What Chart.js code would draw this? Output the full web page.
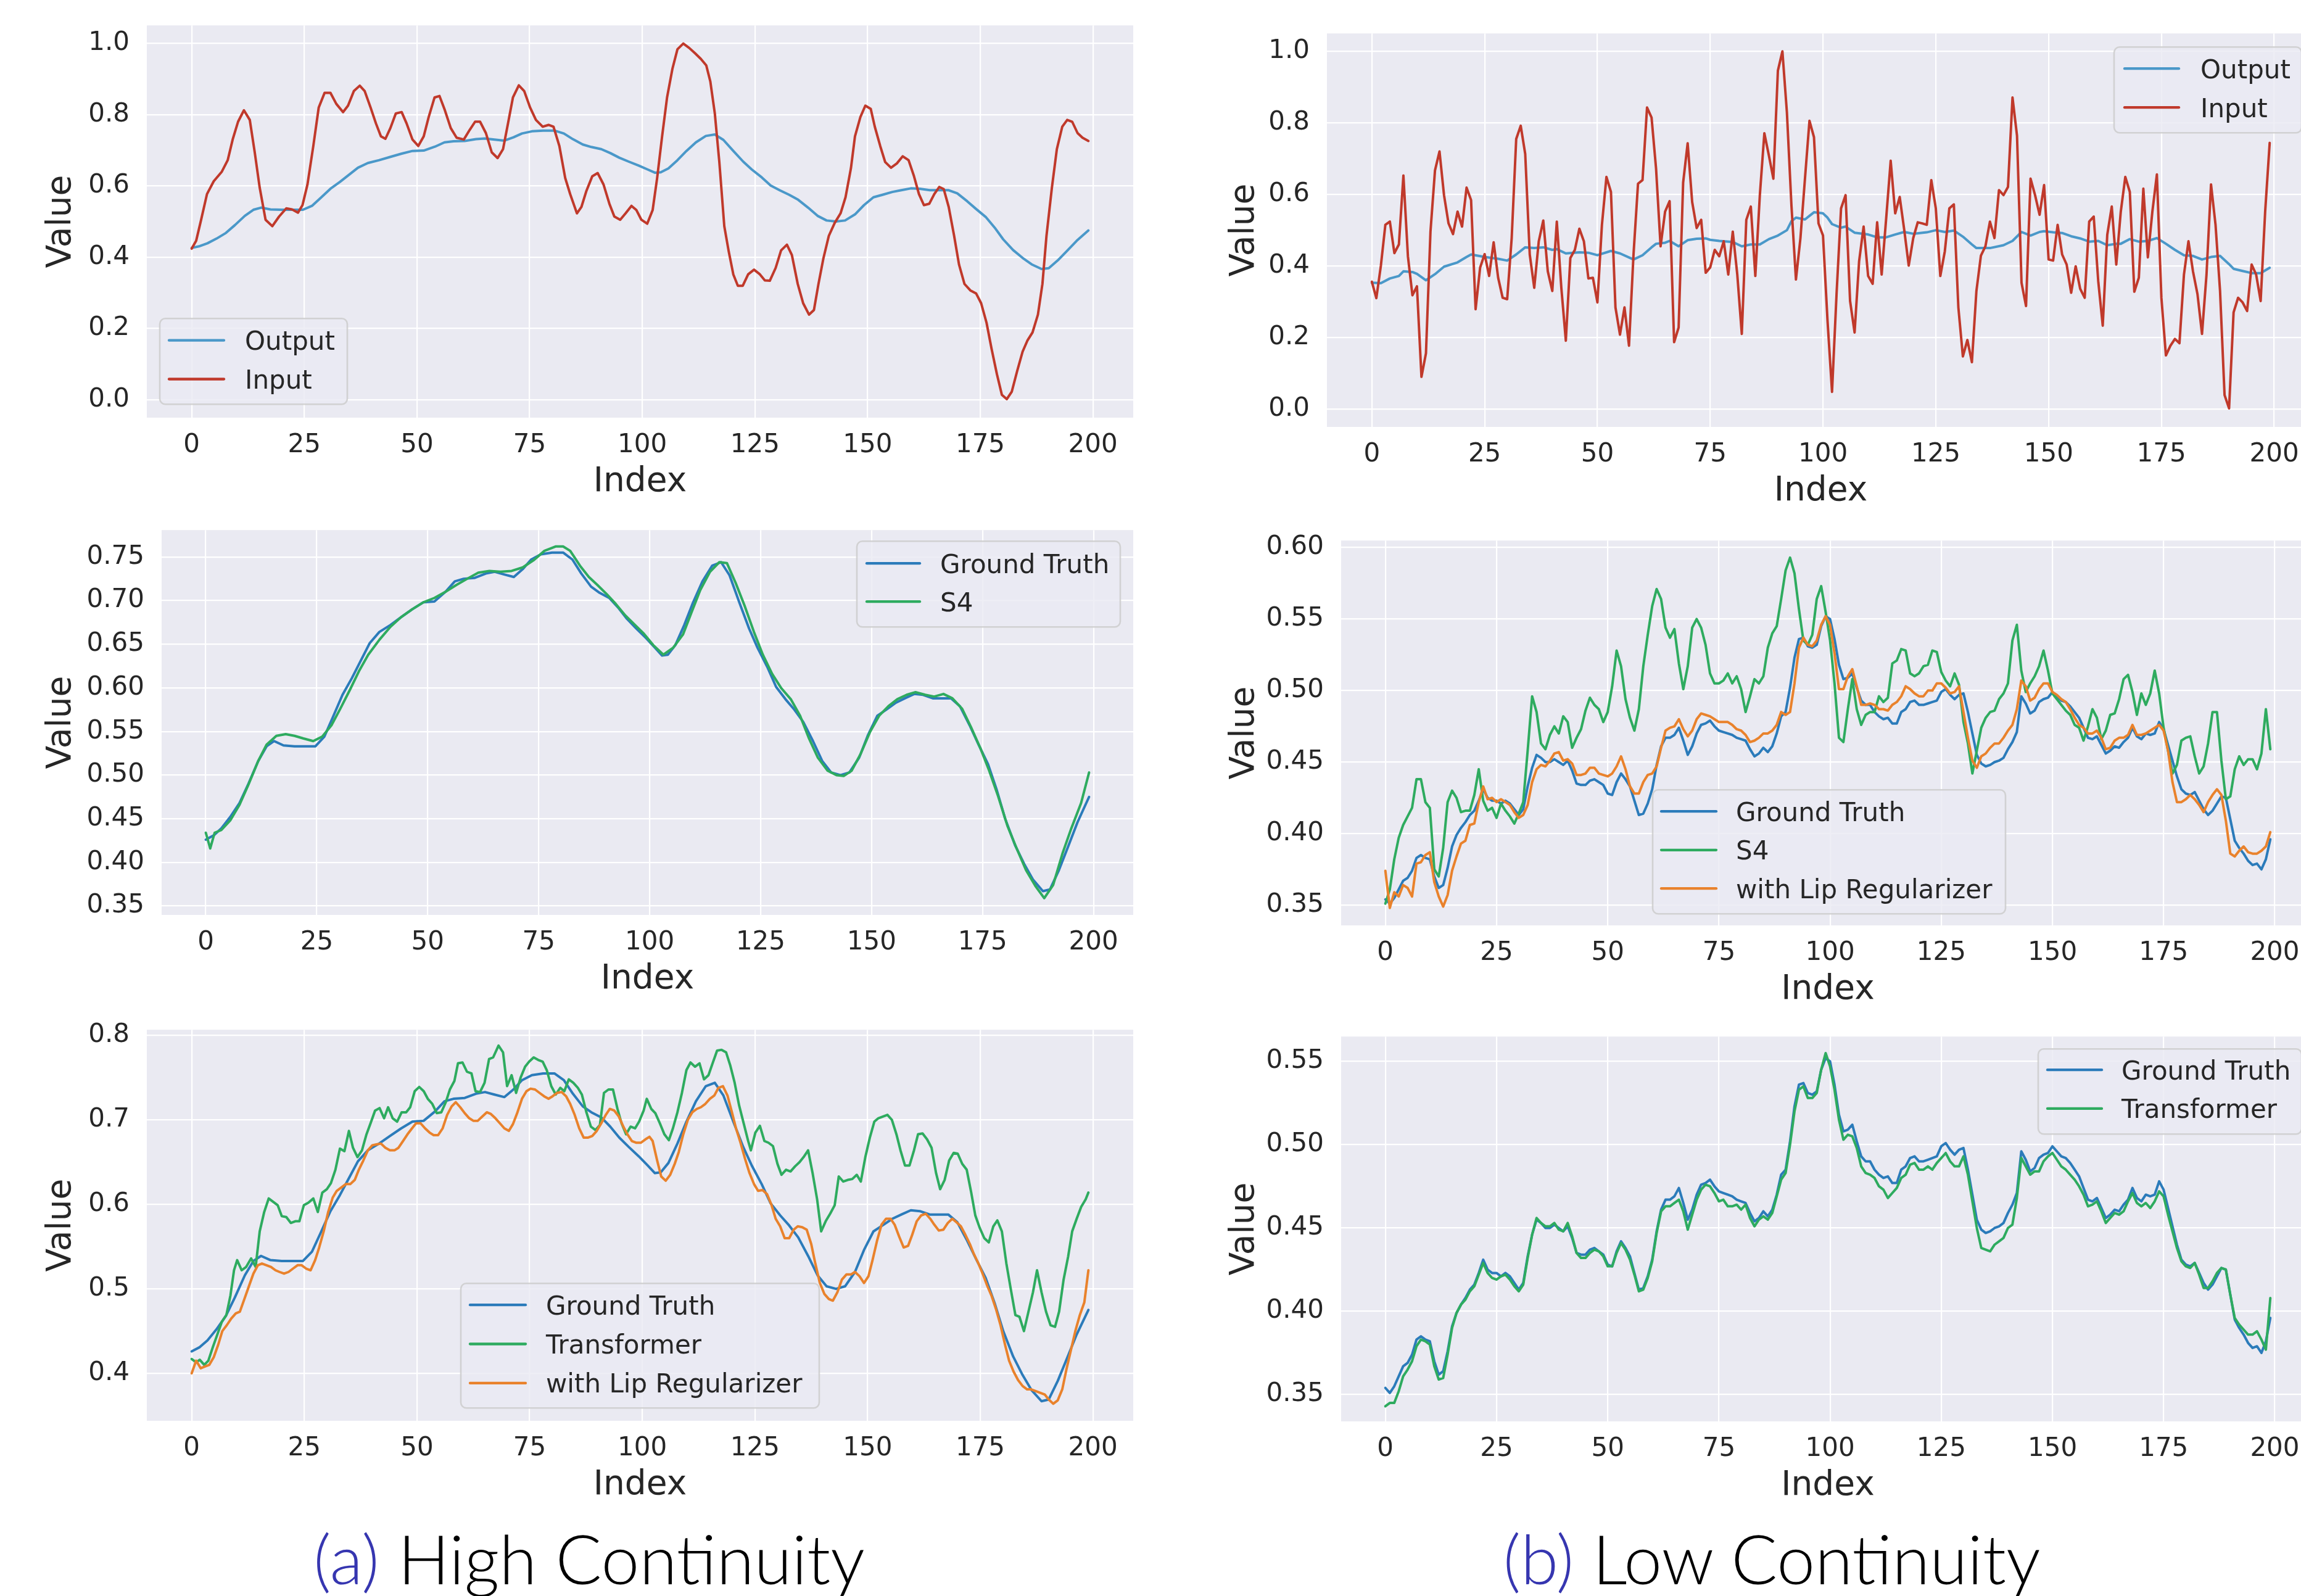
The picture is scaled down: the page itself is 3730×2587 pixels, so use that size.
<!DOCTYPE html>
<html>
<head>
<meta charset="utf-8">
<script src="https://cdn.jsdelivr.net/npm/chart.js@4.4.1/dist/chart.umd.min.js"></script>
<style>
  html, body { margin: 0; padding: 0; background: #ffffff; }
  body { width: 3730px; height: 2587px; overflow: hidden; position: relative; }
  canvas { position: absolute; }
  .cap { position: absolute; top: 2470px; width: 1200px; text-align: center; font-family: Lato, "Open Sans", sans-serif;
         font-weight: 300; font-size: 111px; line-height: 1; color: #000; white-space: nowrap; }
  .cap span { color: #3636b0; }
</style>
</head>
<body>
<canvas id="a1"></canvas>
<canvas id="a2"></canvas>
<canvas id="a3"></canvas>
<canvas id="b1"></canvas>
<canvas id="b2"></canvas>
<canvas id="b3"></canvas>
<div class="cap" style="left:355px"><span>(a)</span> High Continuity</div>
<div class="cap" style="left:2272px"><span>(b)</span> Low Continuity</div>
<script>
// ---------- shared axis ticks ----------
const xTicks = [0, 25, 50, 75, 100, 125, 150, 175, 200];
const yTicksUnit = [0, 0.2, 0.4, 0.6, 0.8, 1.0];
const yTicksHighGT = [0.35, 0.40, 0.45, 0.50, 0.55, 0.60, 0.65, 0.70, 0.75];
const yTicksHighTr = [0.4, 0.5, 0.6, 0.7, 0.8];
const yTicksLowS4 = [0.35, 0.40, 0.45, 0.50, 0.55, 0.60];
const yTicksLowTr = [0.35, 0.40, 0.45, 0.50, 0.55];

// ---------- (a) high continuity: [index, value] ----------
const highGroundTruth = [[0,0.426],[1.8,0.431],[3.5,0.439],[5.5,0.452],[7.6,0.468],[9.6,0.49],[11.8,0.516],[13.7,0.533],[15.4,0.539],[17.5,0.534],[20,0.533],[22.5,0.533],[24.7,0.533],[26.7,0.544],[28.6,0.566],[30.8,0.592],[32.9,0.611],[34.9,0.631],[36.9,0.651],[39.1,0.664],[41.6,0.672],[44,0.681],[46.5,0.69],[49,0.698],[51.5,0.699],[54,0.71],[56.1,0.722],[58.1,0.725],[60.6,0.726],[63.1,0.731],[65.1,0.733],[67.2,0.73],[69.4,0.727],[71.4,0.736],[73.3,0.747],[75.5,0.753],[78,0.755],[80.5,0.755],[82.6,0.747],[84.6,0.731],[86.8,0.716],[88.7,0.709],[90.9,0.703],[92.9,0.692],[94.9,0.679],[97,0.668],[99.2,0.657],[101.2,0.646],[102.8,0.637],[104.1,0.638],[105.8,0.649],[107.8,0.672],[109.8,0.698],[111.9,0.722],[114.1,0.74],[116.1,0.744],[118,0.729],[120.2,0.698],[122.4,0.668],[124.3,0.646],[126.5,0.624],[128.5,0.601],[130.6,0.587],[132.6,0.575],[134.6,0.561],[136.8,0.539],[138.9,0.516],[140.9,0.503],[143,0.5],[145,0.503],[147.2,0.52],[149.2,0.546],[151.3,0.568],[153.3,0.575],[155.5,0.583],[157.5,0.588],[159.6,0.593],[161.6,0.592],[163.8,0.588],[165.7,0.588],[167.9,0.588],[169.9,0.579],[172.1,0.557],[174.1,0.535],[176.2,0.513],[178.2,0.483],[180.1,0.45],[182.3,0.42],[184.4,0.398],[186.4,0.38],[188.6,0.367],[190.2,0.369],[192.2,0.391],[194.2,0.417],[196.4,0.446],[199,0.475]];

const highInput = [[0,0.424],[1,0.446],[2.1,0.505],[3.4,0.577],[4.9,0.613],[6.7,0.64],[8,0.672],[9.1,0.73],[10.3,0.78],[11.6,0.812],[12.9,0.785],[14,0.694],[15.1,0.595],[16.4,0.505],[17.9,0.487],[19.4,0.514],[21,0.537],[22.3,0.534],[23.6,0.525],[24.6,0.546],[25.7,0.604],[27,0.712],[28.2,0.82],[29.5,0.861],[30.8,0.861],[32.1,0.83],[33.6,0.807],[34.7,0.825],[36,0.866],[37.3,0.881],[38.4,0.866],[39.7,0.82],[40.9,0.775],[42,0.739],[43,0.732],[44.1,0.762],[45.3,0.803],[46.6,0.807],[47.7,0.775],[49,0.73],[50.3,0.712],[51.5,0.739],[52.6,0.793],[53.9,0.848],[55,0.852],[56.2,0.812],[57.5,0.762],[58.8,0.735],[60.4,0.73],[61.7,0.757],[62.9,0.78],[64,0.78],[65.3,0.748],[66.6,0.694],[67.9,0.678],[69.1,0.703],[70.2,0.775],[71.3,0.848],[72.6,0.882],[73.8,0.866],[75.1,0.82],[76.4,0.785],[77.9,0.766],[79.2,0.771],[80.3,0.766],[81.6,0.712],[82.9,0.622],[84,0.577],[85.5,0.523],[86.5,0.541],[87.6,0.586],[88.9,0.627],[90.1,0.636],[91.4,0.604],[92.7,0.55],[93.8,0.514],[95.1,0.505],[96.3,0.523],[97.6,0.544],[98.7,0.532],[99.8,0.505],[101.1,0.494],[102.3,0.532],[103.3,0.622],[104.4,0.739],[105.5,0.848],[106.7,0.929],[107.8,0.983],[109.1,0.999],[110.4,0.987],[111.7,0.972],[113,0.956],[114.2,0.938],[115.1,0.893],[116.1,0.803],[117.1,0.667],[118.2,0.487],[119.2,0.415],[120.2,0.352],[121.2,0.32],[122.3,0.32],[123.5,0.352],[124.8,0.365],[126.1,0.352],[127.2,0.335],[128.3,0.334],[129.6,0.37],[130.8,0.419],[132.1,0.435],[133.2,0.406],[134.5,0.325],[135.7,0.271],[137,0.239],[138.1,0.252],[139.1,0.325],[140.2,0.397],[141.4,0.46],[142.7,0.496],[144,0.523],[145.1,0.568],[146.3,0.649],[147.2,0.739],[148.4,0.793],[149.5,0.825],[150.7,0.816],[151.6,0.766],[152.8,0.712],[153.9,0.667],[155.2,0.651],[156.5,0.663],[157.8,0.683],[159.1,0.672],[160.3,0.627],[161.4,0.577],[162.5,0.546],[163.7,0.55],[164.8,0.577],[165.9,0.597],[166.9,0.591],[168,0.541],[169.2,0.46],[170.3,0.379],[171.5,0.325],[172.8,0.307],[174.1,0.298],[175.2,0.271],[176.4,0.216],[177.5,0.144],[178.7,0.072],[179.8,0.014],[180.9,0.002],[182,0.023],[183.2,0.081],[184.4,0.135],[185.5,0.167],[186.6,0.189],[187.8,0.239],[188.8,0.325],[189.7,0.46],[190.9,0.595],[192,0.703],[193.2,0.766],[194.3,0.785],[195.4,0.78],[196.6,0.748],[197.7,0.735],[199,0.726]];

const highS4 = [[0,0.434],[1,0.416],[2,0.434],[3.5,0.437],[5.5,0.448],[7.6,0.466],[9.6,0.489],[11.8,0.516],[13.7,0.535],[15.9,0.545],[18,0.547],[20,0.545],[22,0.542],[24.2,0.539],[26.2,0.544],[28.3,0.557],[30.3,0.576],[32.5,0.598],[34.6,0.62],[36.6,0.638],[39.1,0.655],[41.6,0.67],[44,0.681],[46.5,0.69],[49,0.698],[51.5,0.703],[54,0.71],[56.5,0.718],[58.9,0.725],[61.4,0.732],[63.9,0.734],[66.4,0.733],[68.9,0.734],[71.4,0.738],[73.8,0.746],[76.3,0.757],[78.8,0.762],[80.5,0.762],[82.1,0.757],[84.3,0.74],[86.3,0.727],[88.2,0.718],[90.4,0.707],[92.4,0.696],[94.5,0.683],[96.5,0.673],[98.7,0.662],[100.8,0.649],[103.1,0.638],[105.3,0.646],[107.5,0.661],[109.4,0.686],[111.4,0.712],[113.6,0.733],[115.7,0.744],[117.4,0.743],[119.4,0.72],[121.4,0.694],[123.5,0.664],[125.5,0.638],[127.6,0.616],[129.6,0.6],[131.8,0.587],[133.9,0.568],[135.9,0.542],[137.9,0.52],[140.1,0.505],[142.1,0.5],[143.7,0.499],[145.5,0.505],[147.5,0.524],[149.7,0.55],[151.7,0.568],[153.8,0.579],[155.8,0.587],[157.9,0.592],[159.9,0.595],[162.1,0.592],[164.1,0.59],[166.2,0.593],[168.2,0.588],[170.4,0.576],[172.4,0.555],[174.5,0.531],[176.5,0.505],[178.5,0.476],[180.6,0.442],[182.6,0.417],[184.8,0.391],[186.9,0.373],[188.9,0.359],[190.9,0.374],[193,0.41],[195,0.439],[197.2,0.468],[199,0.503]];

const highTransformer = [[0,0.417],[1,0.413],[1.8,0.416],[2.8,0.41],[3.7,0.415],[4.7,0.431],[5.7,0.446],[6.7,0.461],[7.7,0.469],[8.6,0.492],[9.4,0.522],[10.1,0.534],[11.1,0.522],[12.1,0.526],[13.2,0.536],[14.2,0.526],[15.1,0.568],[16.1,0.591],[17.1,0.607],[18.1,0.603],[19.1,0.599],[20,0.586],[21,0.585],[22,0.578],[23,0.58],[23.9,0.58],[24.9,0.599],[25.9,0.602],[27,0.607],[28,0.591],[29,0.614],[30,0.618],[30.9,0.625],[31.9,0.641],[32.9,0.666],[33.9,0.663],[34.9,0.687],[35.8,0.667],[36.8,0.656],[37.8,0.664],[38.8,0.683],[39.7,0.696],[40.7,0.711],[41.7,0.714],[42.7,0.702],[43.6,0.715],[44.6,0.702],[45.6,0.698],[46.6,0.709],[47.6,0.709],[48.5,0.715],[49.5,0.734],[50.5,0.739],[51.5,0.734],[52.4,0.725],[53.4,0.719],[54.4,0.708],[55.4,0.709],[56.4,0.721],[57.3,0.736],[58.3,0.746],[59.1,0.767],[60.1,0.768],[61.1,0.757],[62.1,0.755],[63,0.734],[64,0.733],[65,0.744],[66,0.772],[66.9,0.774],[68.1,0.788],[69.1,0.78],[70,0.74],[71,0.753],[72,0.732],[73,0.75],[74,0.763],[74.9,0.769],[75.9,0.774],[76.9,0.771],[77.9,0.769],[78.8,0.759],[79.8,0.74],[80.8,0.73],[81.8,0.738],[82.7,0.734],[83.7,0.748],[84.7,0.744],[85.7,0.738],[86.6,0.73],[87.6,0.709],[88.6,0.692],[89.6,0.688],[90.6,0.694],[91.5,0.732],[92.5,0.736],[93.5,0.736],[94.5,0.713],[95.4,0.696],[96.4,0.683],[97.4,0.692],[98.4,0.69],[99.3,0.698],[100.3,0.711],[101,0.725],[102,0.713],[102.9,0.708],[103.9,0.696],[104.9,0.683],[105.9,0.676],[106.8,0.69],[107.8,0.709],[108.8,0.732],[109.8,0.759],[110.7,0.768],[111.7,0.763],[112.7,0.767],[113.7,0.748],[114.7,0.753],[115.6,0.767],[116.6,0.782],[117.6,0.783],[118.6,0.78],[119.5,0.765],[120.5,0.744],[121.5,0.717],[122.5,0.696],[123.5,0.675],[124.1,0.664],[125.1,0.685],[126.1,0.693],[127.1,0.675],[128,0.673],[129,0.669],[130,0.648],[130.9,0.635],[131.9,0.641],[132.9,0.639],[133.9,0.645],[134.9,0.65],[135.8,0.656],[136.8,0.664],[137.8,0.637],[138.8,0.606],[139.7,0.568],[140.7,0.58],[141.7,0.589],[142.7,0.599],[143.6,0.633],[144.6,0.627],[145.6,0.629],[146.6,0.63],[147.6,0.635],[148.5,0.627],[149.5,0.656],[150.5,0.679],[151.5,0.698],[152.4,0.702],[153.4,0.704],[154.4,0.706],[155.4,0.7],[156.4,0.683],[157.3,0.664],[158.3,0.646],[159.3,0.646],[160.3,0.664],[161.2,0.683],[162.2,0.684],[163.2,0.677],[164.2,0.667],[165.2,0.637],[166.1,0.618],[167.1,0.629],[168.1,0.652],[169.1,0.661],[170,0.66],[171,0.648],[172,0.641],[173,0.614],[173.9,0.587],[174.9,0.572],[175.9,0.56],[176.9,0.555],[177.9,0.574],[178.8,0.581],[179.8,0.568],[180.8,0.53],[181.8,0.499],[182.8,0.469],[183.7,0.467],[184.7,0.45],[185.7,0.473],[186.7,0.496],[187.6,0.522],[188.6,0.496],[189.6,0.473],[190.6,0.457],[191.6,0.455],[192.5,0.473],[193.5,0.511],[194.5,0.538],[195.4,0.568],[196.4,0.583],[197.4,0.597],[198.4,0.606],[199,0.614]];

const highLipReg = [[0,0.4],[1,0.415],[2,0.406],[2.9,0.408],[3.9,0.41],[4.9,0.419],[5.9,0.434],[6.8,0.45],[7.8,0.457],[8.8,0.465],[9.8,0.471],[10.7,0.473],[11.7,0.488],[12.7,0.503],[13.7,0.518],[14.7,0.528],[15.6,0.53],[16.6,0.528],[17.6,0.526],[18.6,0.522],[19.5,0.52],[20.5,0.518],[21.5,0.52],[22.5,0.524],[23.5,0.528],[24.4,0.528],[25.4,0.524],[26.4,0.522],[27.4,0.534],[28.3,0.549],[29.3,0.568],[30.3,0.591],[31.3,0.608],[32.2,0.616],[33.2,0.62],[34.2,0.624],[35.2,0.624],[36.2,0.629],[37.1,0.641],[38.1,0.652],[39.1,0.664],[40.1,0.67],[41,0.671],[42,0.672],[43,0.667],[44,0.664],[45,0.664],[45.9,0.667],[46.9,0.675],[47.9,0.683],[48.9,0.69],[49.8,0.696],[50.8,0.696],[51.8,0.69],[52.8,0.685],[53.7,0.682],[54.7,0.682],[55.7,0.69],[56.7,0.706],[57.7,0.716],[58.6,0.721],[59.6,0.715],[60.6,0.708],[61.6,0.702],[62.5,0.699],[63.5,0.699],[64.5,0.704],[65.5,0.709],[66.4,0.707],[67.4,0.702],[68.4,0.696],[69.4,0.69],[70.4,0.687],[71.3,0.695],[72.3,0.709],[73.3,0.725],[74.3,0.734],[75.2,0.737],[76.2,0.736],[77.2,0.732],[78.2,0.728],[79.2,0.725],[80.1,0.728],[81.1,0.732],[82.1,0.733],[83.1,0.728],[84,0.719],[85,0.706],[86,0.69],[87,0.679],[87.9,0.679],[88.9,0.681],[89.9,0.687],[90.9,0.696],[91.9,0.706],[92.8,0.713],[93.8,0.711],[94.8,0.704],[95.8,0.692],[96.7,0.683],[97.7,0.675],[98.7,0.673],[99.7,0.673],[100.7,0.677],[101.6,0.68],[102.3,0.675],[103.3,0.652],[104.2,0.633],[105.2,0.628],[106.2,0.635],[107.2,0.648],[108.1,0.662],[109.1,0.683],[110.1,0.7],[111.1,0.709],[112.1,0.713],[113,0.715],[114,0.719],[115,0.725],[116,0.729],[116.9,0.738],[117.9,0.74],[118.9,0.729],[119.9,0.709],[120.8,0.69],[121.8,0.673],[122.8,0.654],[123.8,0.637],[124.8,0.624],[125.7,0.616],[126.7,0.617],[127.7,0.612],[128.7,0.599],[129.6,0.583],[130.6,0.574],[131.6,0.56],[132.6,0.56],[133.6,0.57],[134.5,0.574],[135.5,0.573],[136.5,0.57],[137.5,0.553],[138.4,0.53],[139.4,0.507],[140.4,0.494],[141.4,0.488],[142.3,0.486],[143.3,0.496],[144.3,0.511],[145.3,0.517],[146.3,0.517],[147.2,0.52],[148.2,0.515],[149.2,0.507],[150.2,0.515],[151.1,0.534],[152.1,0.557],[153.1,0.576],[154.1,0.583],[155.1,0.583],[156,0.576],[157,0.562],[158,0.549],[159,0.551],[159.9,0.564],[160.9,0.58],[161.9,0.587],[162.9,0.589],[163.9,0.583],[164.8,0.576],[165.8,0.569],[166.8,0.57],[167.8,0.578],[168.8,0.583],[169.7,0.579],[170.7,0.574],[171.7,0.564],[172.7,0.553],[173.6,0.541],[174.6,0.53],[175.6,0.517],[176.6,0.503],[177.5,0.492],[178.5,0.476],[179.5,0.457],[180.5,0.434],[181.4,0.415],[182.4,0.402],[183.4,0.392],[184.4,0.385],[185.4,0.381],[186.3,0.381],[187.3,0.379],[188.3,0.377],[189.3,0.375],[190.2,0.369],[191.2,0.364],[192.2,0.368],[193.2,0.381],[194.1,0.404],[195.1,0.427],[196.1,0.45],[197.1,0.469],[198.1,0.484],[199,0.522]];

// ---------- (b) low continuity: one value per index 0..199 ----------
const lowInput = [0.356,0.31,0.40,0.515,0.524,0.436,0.46,0.653,0.427,0.318,
0.343,0.09,0.156,0.496,0.667,0.72,0.598,0.519,0.489,0.552,
0.51,0.619,0.584,0.279,0.395,0.433,0.372,0.466,0.367,0.311,
0.307,0.478,0.755,0.792,0.713,0.432,0.339,0.469,0.527,0.385,
0.33,0.524,0.339,0.191,0.422,0.445,0.504,0.469,0.365,0.367,
0.298,0.515,0.649,0.607,0.284,0.208,0.284,0.177,0.432,0.63,
0.64,0.843,0.815,0.672,0.455,0.552,0.581,0.187,0.228,0.633,
0.743,0.579,0.506,0.529,0.381,0.396,0.445,0.427,0.469,0.376,
0.496,0.376,0.21,0.529,0.566,0.372,0.598,0.771,0.709,0.644,
0.946,1.0,0.829,0.57,0.362,0.478,0.644,0.806,0.76,0.519,
0.485,0.247,0.048,0.321,0.561,0.598,0.302,0.214,0.413,0.51,
0.372,0.35,0.522,0.376,0.533,0.694,0.547,0.593,0.501,0.401,
0.478,0.522,0.519,0.515,0.64,0.561,0.372,0.441,0.561,0.572,
0.284,0.147,0.193,0.131,0.33,0.429,0.455,0.524,0.478,0.612,
0.598,0.621,0.871,0.764,0.353,0.288,0.644,0.598,0.543,0.626,
0.418,0.415,0.515,0.432,0.404,0.325,0.399,0.336,0.311,0.524,
0.538,0.358,0.233,0.487,0.566,0.404,0.552,0.649,0.607,0.328,
0.367,0.616,0.424,0.552,0.656,0.311,0.15,0.177,0.196,0.184,
0.376,0.469,0.385,0.321,0.21,0.376,0.628,0.515,0.33,0.039,
0.002,0.27,0.311,0.298,0.274,0.404,0.376,0.302,0.552,0.744];

const lowOutput = [[0,0.353],[2,0.352],[4,0.365],[6,0.372],[7,0.385],[9,0.383],[10,0.378],[12,0.36],[14,0.377],[16,0.398],[19,0.41],[21,0.425],[22,0.432],[25,0.425],[28,0.42],[30,0.415],[32,0.432],[34,0.452],[36,0.45],[38,0.452],[40,0.445],[41,0.447],[43,0.435],[46,0.438],[48,0.437],[50,0.43],[53,0.442],[55,0.435],[58,0.418],[60,0.43],[62,0.452],[63,0.462],[65,0.465],[66,0.47],[68,0.455],[70,0.472],[72,0.476],[74,0.477],[75,0.473],[77,0.47],[80,0.467],[82,0.455],[84,0.46],[86,0.46],[88,0.475],[90,0.485],[92,0.5],[93,0.525],[94,0.535],[96,0.53],[97,0.54],[98,0.55],[100,0.547],[101,0.535],[102,0.517],[104,0.507],[105,0.51],[107,0.493],[110,0.488],[112,0.48],[114,0.48],[116,0.488],[118,0.495],[120,0.49],[123,0.494],[125,0.5],[127,0.495],[129,0.499],[131,0.482],[133,0.46],[134,0.45],[137,0.45],[140,0.458],[142,0.47],[144,0.495],[146,0.485],[148,0.495],[149,0.497],[151,0.494],[153,0.492],[155,0.483],[157,0.477],[159,0.468],[161,0.47],[163,0.458],[165,0.462],[166,0.462],[168,0.475],[170,0.468],[172,0.47],[174,0.478],[176,0.462],[178,0.445],[180,0.43],[182,0.428],[184,0.418],[186,0.425],[188,0.428],[190,0.405],[191,0.392],[193,0.386],[195,0.38],[197,0.38],[199,0.395]];

const lowGroundTruth = [0.354,0.351,0.355,0.361,0.367,0.369,0.374,0.383,0.385,0.383,
0.382,0.37,0.362,0.364,0.376,0.391,0.399,0.404,0.408,0.413,
0.416,0.423,0.431,0.425,0.423,0.423,0.421,0.423,0.421,0.417,
0.413,0.417,0.433,0.446,0.455,0.453,0.45,0.45,0.452,0.45,
0.448,0.451,0.444,0.435,0.434,0.434,0.437,0.438,0.436,0.434,
0.428,0.427,0.436,0.442,0.438,0.433,0.423,0.413,0.414,0.421,
0.431,0.448,0.461,0.467,0.467,0.469,0.474,0.465,0.455,0.461,
0.47,0.476,0.477,0.479,0.475,0.472,0.471,0.47,0.469,0.467,
0.466,0.465,0.459,0.454,0.456,0.46,0.457,0.461,0.47,0.482,
0.485,0.502,0.523,0.536,0.537,0.531,0.53,0.532,0.545,0.552,
0.55,0.536,0.518,0.508,0.509,0.512,0.502,0.493,0.49,0.49,
0.485,0.482,0.48,0.481,0.477,0.477,0.485,0.487,0.492,0.493,
0.49,0.49,0.491,0.492,0.493,0.499,0.501,0.497,0.494,0.497,
0.498,0.485,0.47,0.455,0.449,0.447,0.448,0.45,0.451,0.453,
0.459,0.464,0.471,0.496,0.491,0.484,0.486,0.492,0.494,0.495,
0.499,0.496,0.493,0.492,0.489,0.485,0.481,0.474,0.467,0.466,
0.468,0.462,0.456,0.458,0.461,0.46,0.464,0.467,0.474,0.468,
0.466,0.47,0.469,0.47,0.478,0.473,0.462,0.451,0.44,0.431,
0.428,0.427,0.429,0.423,0.417,0.413,0.416,0.421,0.426,0.425,
0.41,0.395,0.39,0.386,0.381,0.378,0.379,0.375,0.382,0.396];

const lowS4 = [0.351,0.361,0.382,0.397,0.406,0.412,0.418,0.438,0.438,0.422,
0.418,0.375,0.37,0.39,0.422,0.43,0.425,0.415,0.416,0.416,
0.427,0.445,0.423,0.416,0.418,0.411,0.421,0.416,0.412,0.407,
0.414,0.422,0.458,0.496,0.485,0.463,0.459,0.469,0.475,0.47,
0.482,0.478,0.46,0.467,0.473,0.486,0.495,0.49,0.487,0.478,
0.485,0.503,0.528,0.517,0.494,0.481,0.472,0.487,0.517,0.539,
0.559,0.571,0.564,0.544,0.537,0.543,0.519,0.501,0.517,0.544,
0.55,0.544,0.532,0.512,0.505,0.505,0.507,0.512,0.505,0.51,
0.501,0.485,0.496,0.508,0.505,0.51,0.53,0.54,0.545,0.564,
0.584,0.593,0.582,0.557,0.535,0.532,0.539,0.564,0.573,0.555,
0.535,0.505,0.467,0.464,0.487,0.508,0.487,0.476,0.483,0.485,
0.485,0.496,0.492,0.495,0.519,0.521,0.529,0.528,0.512,0.51,
0.512,0.517,0.518,0.528,0.527,0.513,0.507,0.503,0.512,0.504,
0.478,0.463,0.442,0.458,0.474,0.481,0.485,0.486,0.494,0.498,
0.505,0.535,0.546,0.514,0.499,0.505,0.51,0.517,0.528,0.514,
0.498,0.494,0.49,0.486,0.483,0.476,0.474,0.465,0.475,0.487,
0.481,0.466,0.472,0.483,0.484,0.494,0.508,0.511,0.499,0.483,
0.498,0.49,0.498,0.514,0.498,0.474,0.458,0.442,0.448,0.465,
0.467,0.468,0.454,0.442,0.447,0.463,0.485,0.485,0.451,0.424,
0.426,0.445,0.454,0.448,0.452,0.452,0.445,0.456,0.487,0.459];

const lowLipReg = [0.374,0.348,0.359,0.356,0.364,0.362,0.356,0.379,0.38,0.385,
0.387,0.366,0.356,0.349,0.357,0.374,0.384,0.393,0.395,0.406,
0.407,0.422,0.433,0.424,0.425,0.422,0.424,0.422,0.42,0.415,
0.411,0.413,0.42,0.436,0.445,0.448,0.447,0.451,0.456,0.457,
0.451,0.452,0.449,0.441,0.441,0.442,0.446,0.446,0.442,0.441,
0.44,0.442,0.447,0.454,0.445,0.433,0.428,0.428,0.436,0.441,
0.442,0.447,0.46,0.472,0.474,0.475,0.48,0.473,0.468,0.472,
0.48,0.484,0.483,0.482,0.48,0.478,0.478,0.478,0.476,0.473,
0.472,0.469,0.464,0.465,0.467,0.47,0.47,0.472,0.476,0.485,
0.483,0.485,0.505,0.53,0.537,0.532,0.531,0.535,0.546,0.552,
0.546,0.526,0.501,0.501,0.51,0.515,0.503,0.49,0.49,0.491,
0.49,0.487,0.487,0.486,0.49,0.492,0.496,0.503,0.501,0.498,
0.496,0.496,0.5,0.5,0.505,0.505,0.502,0.498,0.499,0.503,
0.485,0.467,0.451,0.446,0.454,0.456,0.46,0.463,0.463,0.467,
0.472,0.476,0.487,0.507,0.503,0.493,0.495,0.501,0.505,0.505,
0.499,0.497,0.494,0.492,0.487,0.481,0.476,0.474,0.47,0.47,
0.472,0.467,0.459,0.46,0.465,0.467,0.467,0.469,0.476,0.469,
0.469,0.47,0.472,0.474,0.476,0.472,0.458,0.436,0.422,0.422,
0.424,0.427,0.424,0.42,0.415,0.422,0.427,0.431,0.427,0.409,
0.386,0.384,0.388,0.391,0.387,0.386,0.386,0.388,0.391,0.401];

const lowTransformer = [0.343,0.345,0.345,0.352,0.361,0.365,0.37,0.379,0.383,0.382,
0.38,0.367,0.359,0.36,0.374,0.39,0.399,0.404,0.407,0.412,
0.415,0.422,0.429,0.423,0.42,0.419,0.421,0.422,0.419,0.415,
0.412,0.416,0.432,0.446,0.456,0.453,0.451,0.451,0.453,0.449,
0.448,0.453,0.445,0.435,0.432,0.432,0.435,0.437,0.436,0.433,
0.427,0.427,0.435,0.441,0.437,0.431,0.422,0.412,0.413,0.42,
0.43,0.447,0.46,0.463,0.463,0.465,0.467,0.46,0.449,0.458,
0.467,0.473,0.476,0.475,0.471,0.466,0.467,0.463,0.463,0.464,
0.461,0.464,0.456,0.451,0.455,0.457,0.455,0.459,0.469,0.479,
0.483,0.5,0.52,0.533,0.535,0.528,0.528,0.531,0.545,0.555,
0.547,0.533,0.515,0.503,0.506,0.505,0.498,0.487,0.483,0.482,
0.48,0.475,0.473,0.468,0.471,0.474,0.48,0.482,0.488,0.489,
0.485,0.485,0.487,0.485,0.489,0.492,0.495,0.49,0.487,0.487,
0.493,0.482,0.466,0.45,0.438,0.437,0.436,0.44,0.442,0.444,
0.45,0.452,0.468,0.492,0.487,0.482,0.484,0.484,0.49,0.493,
0.495,0.491,0.487,0.485,0.482,0.479,0.475,0.47,0.463,0.464,
0.466,0.46,0.453,0.456,0.459,0.458,0.46,0.466,0.471,0.465,
0.463,0.465,0.462,0.466,0.472,0.469,0.458,0.448,0.438,0.43,
0.427,0.426,0.429,0.422,0.414,0.414,0.418,0.423,0.426,0.425,
0.41,0.396,0.392,0.389,0.386,0.386,0.388,0.383,0.377,0.408];

// ---------- colours ----------
const C_OUTPUT = '#4a98c9', C_INPUT = '#c0392b', C_GT = '#2b7bba', C_GREEN = '#2eab5f', C_ORANGE = '#e9822c';

// series helpers: pairs -> points, plain arrays -> indexed points
const fromPairs = arr => arr.map(p => ({ x: p[0], y: p[1] }));
const fromValues = arr => arr.map((v, i) => ({ x: i, y: v }));

Chart.defaults.font.family = '"DejaVu Sans", sans-serif';
Chart.defaults.color = '#262626';

const TEXT = '#262626';
const X_BOX = 140, PAD_T = 30, PAD_R = 60;

// plot-area background
const panelBg = {
  id: 'panelBg',
  beforeDraw(chart) {
    const a = chart.chartArea, ctx = chart.ctx;
    ctx.save();
    ctx.fillStyle = '#eaeaf2';
    ctx.fillRect(a.left, a.top, a.right - a.left, a.bottom - a.top);
    ctx.restore();
  }
};

// legend drawn inside the plot area, built from the dataset labels/colours;
// its box is given in page coordinates and shifted by the canvas position
const insideLegend = {
  id: 'insideLegend',
  afterDraw(chart, args, o) {
    if (!o || !o.box) return;
    const ox = parseFloat(chart.canvas.style.left), oy = parseFloat(chart.canvas.style.top);
    if (isNaN(ox) || isNaN(oy)) return;
    const ctx = chart.ctx;
    const [x0, y0, x1, y1] = o.box;
    ctx.save();
    ctx.beginPath();
    ctx.roundRect(x0 - ox, y0 - oy, x1 - x0, y1 - y0, 9);
    ctx.fillStyle = 'rgba(234,234,242,0.8)';
    ctx.fill();
    ctx.lineWidth = 2.6;
    ctx.strokeStyle = 'rgba(204,204,204,0.85)';
    ctx.stroke();
    chart.data.datasets.forEach((ds, i) => {
      const y = o.rows[i] - oy;
      ctx.beginPath();
      ctx.lineCap = 'round';
      ctx.lineWidth = 4.3;
      ctx.strokeStyle = ds.borderColor;
      ctx.moveTo(o.line[0] - ox, y);
      ctx.lineTo(o.line[1] - ox, y);
      ctx.stroke();
      ctx.fillStyle = TEXT;
      ctx.font = '42px "DejaVu Sans"';
      ctx.textBaseline = 'alphabetic';
      ctx.textAlign = 'left';
      ctx.fillText(ds.label, o.textX - ox, y + 15.3);
    });
    ctx.restore();
  }
};

function panelConfig(p, left) {
  const n = p.series.length;
  return {
    type: 'line',
    data: {
      datasets: p.series.map((s, i) => ({
        label: s.label, data: s.build(s.values), borderColor: s.color, backgroundColor: s.color,
        borderWidth: 4, pointRadius: 0, tension: 0, fill: false,
        borderJoinStyle: 'round', borderCapStyle: 'round', order: n - i
      }))
    },
    options: {
      responsive: false, maintainAspectRatio: false, animation: false, devicePixelRatio: 1,
      layout: { padding: { top: PAD_T, right: PAD_R, left: 0, bottom: 0 } },
      plugins: { legend: { display: false }, tooltip: { enabled: false }, insideLegend: p.legend },
      scales: {
        x: {
          type: 'linear', min: -9.95, max: 208.95,
          afterBuildTicks: s => { s.ticks = xTicks.map(v => ({ value: v })); },
          afterFit: s => { s.height = X_BOX; },
          grid: { color: '#ffffff', lineWidth: 2.2, drawTicks: false },
          border: { display: false },
          ticks: { padding: 20, autoSkip: false, maxRotation: 0, color: TEXT, font: { size: 42 }, callback: v => String(v) },
          title: { display: true, text: 'Index', color: TEXT, font: { size: 55 }, padding: { top: 0, bottom: 2 } }
        },
        y: {
          type: 'linear', min: p.yMin, max: p.yMax,
          afterBuildTicks: s => { s.ticks = p.yTicks.map(v => ({ value: v })); },
          afterFit: s => { s.width = p.L - left; },
          grid: { color: '#ffffff', lineWidth: 2.2, drawTicks: false },
          border: { display: false },
          ticks: { padding: 28, autoSkip: false, color: TEXT, font: { size: 42 }, callback: v => v.toFixed(p.dec) },
          title: { display: true, text: 'Value', color: TEXT, font: { size: 55 }, padding: { top: p.titlePad, bottom: 0 } }
        }
      }
    },
    plugins: [panelBg, insideLegend]
  };
}

// size each canvas so that its plot area lands exactly on the panel box
function drawPanel(p) {
  const cv = document.getElementById(p.id);
  const left = p.canvasLeft;
  let W = p.R - left + PAD_R, H = p.B - p.T + PAD_T + X_BOX;
  let chart = null;
  for (let k = 0; k < 5; k++) {
    cv.width = W; cv.height = H;
    cv.style.width = W + 'px'; cv.style.height = H + 'px';
    chart = new Chart(cv, panelConfig(p, left));
    const a = chart.chartArea;
    const dw = (p.R - p.L) - (a.right - a.left), dh = (p.B - p.T) - (a.bottom - a.top);
    if ((Math.abs(dw) < 0.5 && Math.abs(dh) < 0.5) || k === 4) break;
    chart.destroy();
    W += dw; H += dh;
  }
  const a = chart.chartArea;
  cv.style.left = (p.L - a.left) + 'px';
  cv.style.top = (p.T - a.top) + 'px';
  chart.draw();
}

const panels = [
  { id: 'a1', canvasLeft: 0, L: 238, R: 1837, T: 41, B: 677, yMin: -0.05, yMax: 1.05, yTicks: yTicksUnit, dec: 1, titlePad: 67,
    series: [ { label: 'Output', values: highGroundTruth, build: fromPairs, color: C_OUTPUT },
              { label: 'Input', values: highInput, build: fromPairs, color: C_INPUT } ],
    legend: { box: [259, 516, 563, 655], line: [274, 363], textX: 397, rows: [551.5, 614.3] } },
  { id: 'a2', canvasLeft: 0, L: 262, R: 1837, T: 859, B: 1483, yMin: 0.3398, yMax: 0.7808, yTicks: yTicksHighGT, dec: 2, titlePad: 67,
    series: [ { label: 'Ground Truth', values: highGroundTruth, build: fromPairs, color: C_GT },
              { label: 'S4', values: highS4, build: fromPairs, color: C_GREEN } ],
    legend: { box: [1389, 877, 1816, 1016], line: [1405, 1491], textX: 1524, rows: [913, 975] } },
  { id: 'a3', canvasLeft: 0, L: 238, R: 1837, T: 1669, B: 2303, yMin: 0.3438, yMax: 0.8067, yTicks: yTicksHighTr, dec: 1, titlePad: 67,
    series: [ { label: 'Ground Truth', values: highGroundTruth, build: fromPairs, color: C_GT },
              { label: 'Transformer', values: highTransformer, build: fromPairs, color: C_GREEN },
              { label: 'with Lip Regularizer', values: highLipReg, build: fromPairs, color: C_ORANGE } ],
    legend: { box: [747, 2080, 1328, 2282], line: [762, 852], textX: 885, rows: [2115, 2178.3, 2241.7] } },
  { id: 'b1', canvasLeft: 1940, L: 2151, R: 3752, T: 54, B: 692, yMin: -0.05, yMax: 1.05, yTicks: yTicksUnit, dec: 1, titlePad: 45,
    series: [ { label: 'Output', values: lowOutput, build: fromPairs, color: C_OUTPUT },
              { label: 'Input', values: lowInput, build: fromValues, color: C_INPUT } ],
    legend: { box: [3427, 76, 3731, 215], line: [3444, 3532], textX: 3567, rows: [111, 174] } },
  { id: 'b2', canvasLeft: 1940, L: 2174, R: 3752, T: 876, B: 1500, yMin: 0.3358, yMax: 0.6049, yTicks: yTicksLowS4, dec: 2, titlePad: 45,
    series: [ { label: 'Ground Truth', values: lowGroundTruth, build: fromValues, color: C_GT },
              { label: 'S4', values: lowS4, build: fromValues, color: C_GREEN },
              { label: 'with Lip Regularizer', values: lowLipReg, build: fromValues, color: C_ORANGE } ],
    legend: { box: [2679, 1280, 3251, 1481], line: [2693, 2782], textX: 2814, rows: [1315, 1377.6, 1440] } },
  { id: 'b3', canvasLeft: 1940, L: 2174, R: 3752, T: 1680, B: 2304, yMin: 0.3339, yMax: 0.5649, yTicks: yTicksLowTr, dec: 2, titlePad: 45,
    series: [ { label: 'Ground Truth', values: lowGroundTruth, build: fromValues, color: C_GT },
              { label: 'Transformer', values: lowTransformer, build: fromValues, color: C_GREEN } ],
    legend: { box: [3304, 1700, 3731, 1838], line: [3319, 3407], textX: 3439, rows: [1734, 1796.7] } }
];

panels.forEach(drawPanel);
</script>
</body>
</html>
